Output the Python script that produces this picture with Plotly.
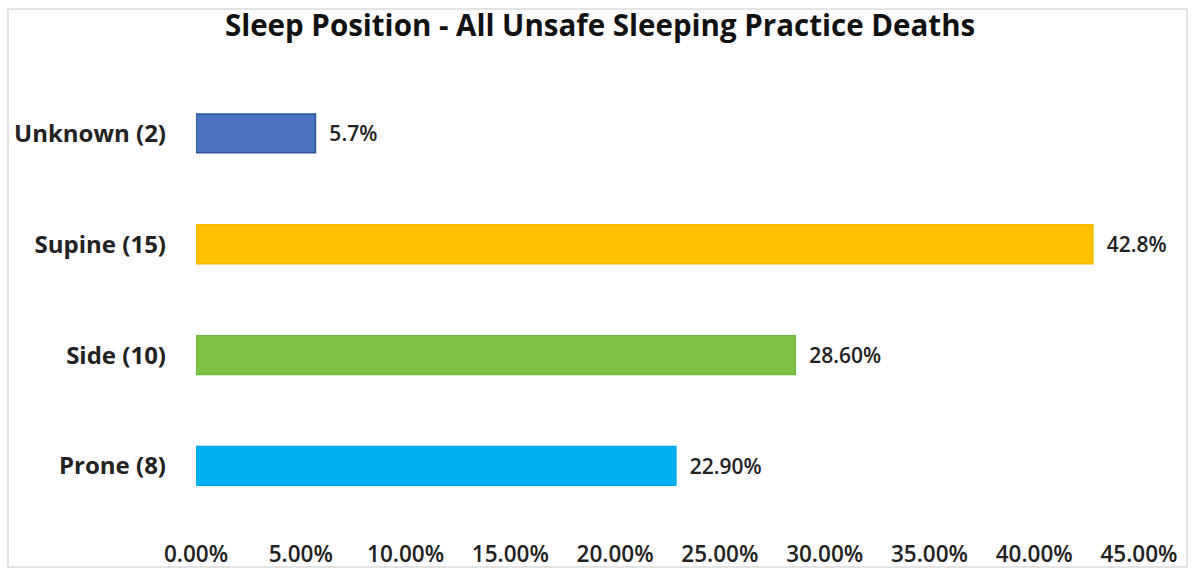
import plotly.graph_objects as go

# Sleep position categories (bottom to top) and share of deaths (%)
categories = ["Prone (8)", "Side (10)", "Supine (15)", "Unknown (2)"]
shares = [22.9, 28.6, 42.8, 5.7]
share_labels = ["22.90%", "28.60%", "42.8%", "5.7%"]
bar_colors = ["#00B0F0", "#7DC242", "#FFC000", "#4A74C2"]
bar_edges = ["#00A6E6", "#72B83A", "#F5B800", "#2E5597"]
x_ticks = [0, 5, 10, 15, 20, 25, 30, 35, 40, 45]
x_tick_labels = ["0.00%", "5.00%", "10.00%", "15.00%", "20.00%",
                 "25.00%", "30.00%", "35.00%", "40.00%", "45.00%"]

FONT = "Open Sans"

fig = go.Figure(
    go.Bar(
        y=categories,
        x=shares,
        orientation="h",
        width=0.35,
        marker=dict(color=bar_colors, line=dict(color=bar_edges, width=1.5)),
        text=["  " + s for s in share_labels],
        textposition="outside",
        cliponaxis=False,
        textfont=dict(family=FONT, size=21, color="#222222", weight=600),
        hoverinfo="skip",
    )
)

W, H = 1193, 569
L, R, T, B = 196, 54, 78, 31
pw, ph = W - L - R, H - T - B


def px_x(p):
    return (p - L) / pw


def px_y(p):
    return 1 - (p - T) / ph


# thin frame around the whole chart
fig.add_shape(
    type="rect", xref="paper", yref="paper",
    x0=px_x(8), x1=px_x(1187), y0=px_y(567), y1=px_y(9),
    line=dict(color="#C8C8C8", width=1), fillcolor="rgba(0,0,0,0)", layer="below",
)

fig.update_layout(
    width=W, height=H,
    margin=dict(l=L, r=R, t=T, b=B, autoexpand=False),
    paper_bgcolor="white", plot_bgcolor="white",
    showlegend=False,
    title=dict(
        text="Sleep Position - All Unsafe Sleeping Practice Deaths",
        x=0.503, xref="container", xanchor="center", y=0.955, yanchor="middle",
        font=dict(family=FONT, size=29.5, color="#111111", weight="bold"),
    ),
    xaxis=dict(
        range=[0, 45], tickvals=x_ticks, ticktext=x_tick_labels,
        showgrid=False, zeroline=False, showline=False, ticks="",
        tickfont=dict(family=FONT, size=22.5, color="#222222", weight=600),
        ticklabelstandoff=0, automargin=False,
        fixedrange=True,
    ),
    yaxis=dict(
        range=[-0.65, 3.5], showgrid=False, zeroline=False, showline=False, ticks="",
        tickfont=dict(family=FONT, size=24, color="#222222", weight="bold"),
        ticklabelstandoff=29, automargin=False,
        fixedrange=True,
    ),
)

fig.write_html("out.html")
